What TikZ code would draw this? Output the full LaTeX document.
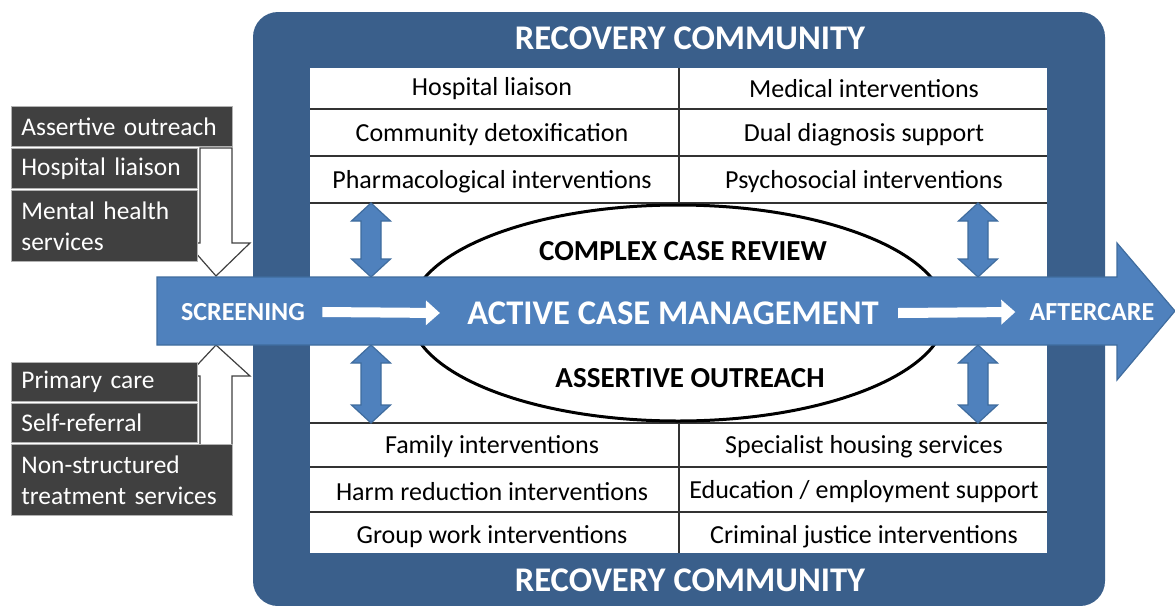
\documentclass[tikz,border=0pt]{standalone}
\usepackage{fontspec}
\setmainfont{Carlito}
\usetikzlibrary{arrows.meta}
\definecolor{frameblue}{HTML}{3A5F8B}
\definecolor{arrowblue}{HTML}{4F81BD}
\definecolor{arrowedge}{HTML}{3F6C9E}
\definecolor{boxgray}{HTML}{404040}
\begin{document}
\begin{tikzpicture}[x=0.5pt,y=-0.5pt,
	celltext/.style={inner sep=0, font=\fontsize{13}{15}\selectfont},
	lbox/.style={fill=boxgray, draw=gray!60, text=white, inner xsep=5pt, inner ysep=0, align=left, anchor=north west, font=\fontsize{12.7}{15.5}\selectfont},
	dbl/.style={fill=arrowblue, draw=arrowedge, line width=0.6pt, line join=miter},
	whitearr/.style={fill=white, draw=boxgray, line width=0.6pt},
	flow/.style={white, line width=5pt, -{Triangle[length=7pt,width=12pt]}},
	headtext/.style={inner sep=0, text=white, font=\bfseries\fontsize{17.3}{20}\selectfont}]
	\useasboundingbox (0,0) rectangle (1175,606);
	% Frame
	\fill [frameblue, rounded corners=12.5pt] (253,12) rectangle (1105,606);
	\fill [white] (310,68) rectangle (1047,553);
	\node[headtext] (rctop) at (690,38) {RECOVERY COMMUNITY};
	\node[headtext] (rcbot) at (690,580) {RECOVERY COMMUNITY};
	% Tables
	\draw [black!80, line width=0.6pt] (310,109) -- (1047,109) (310,156) -- (1047,156) (310,203) -- (1047,203);
	\draw [black!80, line width=0.6pt] (310,423) -- (1047,423) (310,467) -- (1047,467) (310,512) -- (1047,512);
	\draw [black!80, line width=0.6pt] (679,68) -- (679,203) (679,423) -- (679,553);
	\node[celltext] (hosp)    at (492,89)  {Hospital liaison};
	\node[celltext] (medic)   at (864,89)  {Medical interventions};
	\node[celltext] (detox)   at (492,135) {Community detoxification};
	\node[celltext] (dual)    at (864,135) {Dual diagnosis support};
	\node[celltext] (pharm)   at (492,182) {Pharmacological interventions};
	\node[celltext] (psych)   at (864,182) {Psychosocial interventions};
	\node[celltext] (family)  at (492,447) {Family interventions};
	\node[celltext] (housing) at (864,447) {Specialist housing services};
	\node[celltext] (harm)    at (492,492) {Harm reduction interventions};
	\node[celltext] (edu)     at (864,492) {Education / employment support};
	\node[celltext] (group)   at (492,537) {Group work interventions};
	\node[celltext] (crim)    at (864,537) {Criminal justice interventions};
	% Double arrows
	\foreach \x in {371,978}
	\foreach \a/\b in {203/277,345/423}
		\draw[dbl] (\x,\a) -- ++(19.5,18) -- ++(-9.5,0) -- ({\x+10},{\b-18}) -- ++(9.5,0) -- (\x,\b) -- ++(-19.5,-18) -- ++(9.5,0) -- ({\x-10},{\a+18}) -- ++(-9.5,0) -- cycle;
	% Ellipse
	\draw [black, line width=1.5pt] (678,313) ellipse [x radius=268, y radius=108];
	\node[inner sep=0, font=\bfseries\fontsize{14.5}{17}\selectfont] (ccr) at (683,251) {COMPLEX CASE REVIEW};
	\node[inner sep=0, font=\bfseries\fontsize{14.5}{17}\selectfont] (aor) at (690,378) {ASSERTIVE OUTREACH};
	% Referral sources
	\draw[whitearr] (200,148) -- (232,148) -- (232,243) -- (250,243) -- (216,276) -- (187,243) -- (200,243) -- cycle;
	\draw[whitearr] (200,470) -- (232,470) -- (232,376) -- (250,376) -- (216,345) -- (187,376) -- (200,376) -- cycle;
	\node[lbox, text width=100.5pt, minimum height=20pt]   (aout)   at (11,106) {Assertive outreach};
	\node[lbox, text width=83pt,    minimum height=20pt]   (hlia)   at (11,148) {Hospital liaison};
	\node[lbox, text width=83pt,    minimum height=35.5pt] (mhs)    at (11,190) {Mental health\\services};
	\node[lbox, text width=83pt,    minimum height=19.5pt] (pcare)  at (11,362) {Primary care};
	\node[lbox, text width=83pt,    minimum height=19.5pt] (sref)   at (11,403) {Self-referral};
	\node[lbox, text width=100.5pt, minimum height=35.5pt] (nonstr) at (11,444) {Non-structured\\treatment services};
	% Main arrow
	\draw[fill=arrowblue, draw=arrowedge, line width=0.6pt] (157,277) -- (1117,277) -- (1117,243) -- (1175,311) -- (1117,380) -- (1117,345) -- (157,345) -- cycle;
	\node[headtext, font=\bfseries\fontsize{13}{15}\selectfont] (scr) at (243,312) {SCREENING};
	\node[headtext] (acm) at (673,313) {ACTIVE CASE MANAGEMENT};
	\node[headtext, font=\bfseries\fontsize{13}{15}\selectfont] (after) at (1092,312) {AFTERCARE};
	\draw[flow] ([xshift=8.5pt]scr.east) -- ([xshift=-13.5pt]acm.west);
	\draw[flow] ([xshift=9.5pt]acm.east) -- ([xshift=-7pt]after.west);
\end{tikzpicture}
\end{document}
